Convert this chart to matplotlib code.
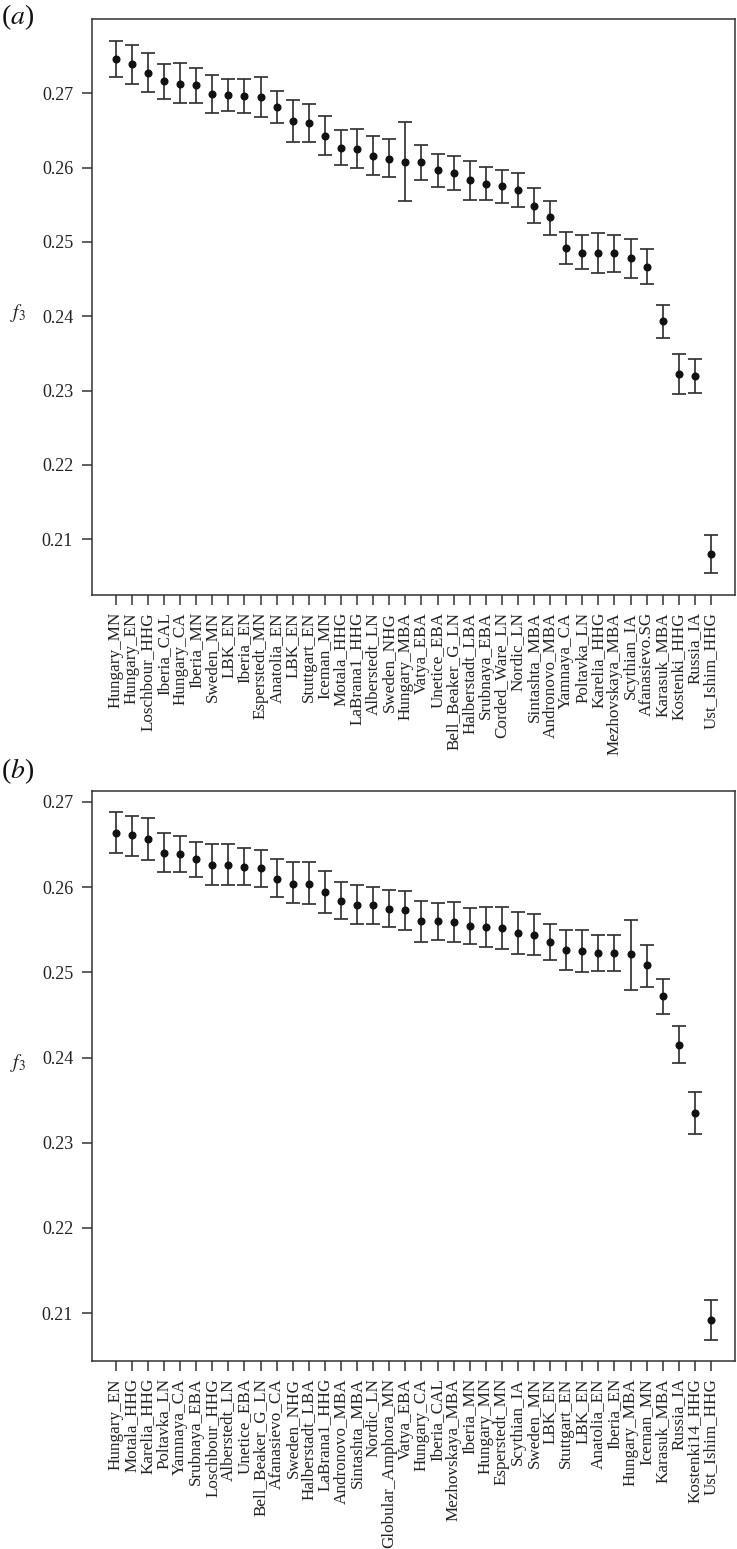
import numpy as np
import matplotlib
matplotlib.use("Agg")
from matplotlib import pyplot as plt

plt.rcParams['font.family'] = ['Liberation Serif', 'DejaVu Serif']
plt.rcParams['mathtext.fontset'] = 'stix'

# panel (a)
labels_a = ["Hungary_MN", "Hungary_EN", "Loschbour_HHG", "Iberia_CAL", "Hungary_CA",
            "Iberia_MN", "Sweden_MN", "LBK_EN", "Iberia_EN", "Esperstedt_MN",
            "Anatolia_EN", "LBK_EN", "Stuttgart_EN", "Iceman_MN", "Motala_HHG",
            "LaBrana1_HHG", "Alberstedt_LN", "Sweden_NHG", "Hungary_MBA", "Vatya_EBA",
            "Unetice_EBA", "Bell_Beaker_G_LN", "Halberstadt_LBA", "Srubnaya_EBA",
            "Corded_Ware_LN", "Nordic_LN", "Sintashta_MBA", "Andronovo_MBA",
            "Yamnaya_CA", "Poltavka_LN", "Karelia_HHG", "Mezhovskaya_MBA",
            "Scythian_IA", "Afanasievo.SG", "Karasuk_MBA", "Kostenki_HHG",
            "Russia_IA", "Ust_Ishim_HHG"]
f3_a = [0.2746, 0.2739, 0.2728, 0.2716, 0.2713, 0.2711, 0.2699, 0.2698, 0.2696, 0.2695,
        0.2681, 0.2663, 0.2660, 0.2642, 0.2627, 0.2625, 0.2616, 0.2612, 0.2608, 0.2608,
        0.2597, 0.2593, 0.2583, 0.2578, 0.2575, 0.2570, 0.2549, 0.2533, 0.2492, 0.2485,
        0.2485, 0.2485, 0.2478, 0.2467, 0.2393, 0.2322, 0.2319, 0.2080]
lo_a = [0.2722, 0.2713, 0.2702, 0.2693, 0.2687, 0.2687, 0.2673, 0.2676, 0.2673, 0.2668,
        0.2660, 0.2635, 0.2635, 0.2617, 0.2604, 0.2599, 0.2590, 0.2587, 0.2555, 0.2583,
        0.2574, 0.2570, 0.2557, 0.2556, 0.2553, 0.2547, 0.2525, 0.2510, 0.2470, 0.2463,
        0.2458, 0.2460, 0.2452, 0.2444, 0.2371, 0.2295, 0.2297, 0.2054]
hi_a = [0.2771, 0.2765, 0.2755, 0.2739, 0.2741, 0.2734, 0.2725, 0.2720, 0.2720, 0.2722,
        0.2703, 0.2691, 0.2686, 0.2669, 0.2651, 0.2652, 0.2642, 0.2638, 0.2661, 0.2631,
        0.2619, 0.2616, 0.2609, 0.2601, 0.2597, 0.2593, 0.2573, 0.2555, 0.2514, 0.2510,
        0.2512, 0.2510, 0.2504, 0.2491, 0.2415, 0.2349, 0.2342, 0.2105]

# panel (b)
labels_b = ["Hungary_EN", "Motala_HHG", "Karelia_HHG", "Poltavka_LN", "Yamnaya_CA",
            "Srubnaya_EBA", "Loschbour_HHG", "Alberstedt_LN", "Unetice_EBA",
            "Bell_Beaker_G_LN", "Afanasievo_CA", "Sweden_NHG", "Halberstadt_LBA",
            "LaBrana1_HHG", "Andronovo_MBA", "Sintashta_MBA", "Nordic_LN",
            "Globular_Amphora_MN", "Vatya_EBA", "Hungary_CA", "Iberia_CAL",
            "Mezhovskaya_MBA", "Iberia_MN", "Hungary_MN", "Esperstedt_MN",
            "Scythian_IA", "Sweden_MN", "LBK_EN", "Stuttgart_EN", "LBK_EN",
            "Anatolia_EN", "Iberia_EN", "Hungary_MBA", "Iceman_MN", "Karasuk_MBA",
            "Russia_IA", "Kostenki14_HHG", "Ust_Ishim_HHG"]
f3_b = [0.2664, 0.2661, 0.2657, 0.2640, 0.2639, 0.2633, 0.2626, 0.2626, 0.2624, 0.2622,
        0.2610, 0.2604, 0.2604, 0.2594, 0.2584, 0.2579, 0.2579, 0.2574, 0.2573, 0.2560,
        0.2560, 0.2559, 0.2554, 0.2553, 0.2552, 0.2546, 0.2544, 0.2536, 0.2526, 0.2525,
        0.2523, 0.2523, 0.2521, 0.2508, 0.2472, 0.2415, 0.2335, 0.2092]
lo_b = [0.2640, 0.2637, 0.2632, 0.2618, 0.2618, 0.2612, 0.2602, 0.2602, 0.2602, 0.2600,
        0.2588, 0.2581, 0.2580, 0.2570, 0.2563, 0.2557, 0.2557, 0.2553, 0.2550, 0.2535,
        0.2538, 0.2535, 0.2533, 0.2530, 0.2527, 0.2522, 0.2520, 0.2515, 0.2503, 0.2500,
        0.2502, 0.2501, 0.2479, 0.2483, 0.2451, 0.2394, 0.2310, 0.2069]
hi_b = [0.2688, 0.2683, 0.2681, 0.2663, 0.2660, 0.2653, 0.2650, 0.2651, 0.2646, 0.2643,
        0.2633, 0.2629, 0.2629, 0.2619, 0.2606, 0.2602, 0.2600, 0.2597, 0.2595, 0.2584,
        0.2581, 0.2582, 0.2576, 0.2577, 0.2577, 0.2571, 0.2568, 0.2557, 0.2550, 0.2550,
        0.2544, 0.2544, 0.2561, 0.2532, 0.2492, 0.2437, 0.2359, 0.2116]

yticks = [0.21, 0.22, 0.23, 0.24, 0.25, 0.26, 0.27]


def panel(ax, labels, f3, lo, hi):
    x = np.arange(1, len(labels) + 1)
    f3 = np.array(f3)
    lo = np.array(lo)
    hi = np.array(hi)
    ax.errorbar(x, f3, yerr=[f3 - lo, hi - f3], fmt='o', color='#111111',
                ecolor='#333333', elinewidth=1.25, capsize=5, capthick=1.25,
                markersize=4.8)
    # R style 4% padding
    n = len(labels)
    ax.set_xlim(1 - 0.04 * (n - 1), n + 0.04 * (n - 1))
    r = hi.max() - lo.min()
    ax.set_ylim(lo.min() - 0.04 * r, hi.max() + 0.04 * r)
    ax.set_xticks(x)
    ax.set_xticklabels(labels, rotation=90, fontsize=12.3, color='#222222')
    ax.set_yticks(yticks)
    ax.set_yticklabels(["%.2f" % t for t in yticks], fontsize=13, color='#222222')
    ax.tick_params(axis='x', length=7.5, width=1.1, color='#333333', pad=5)
    ax.tick_params(axis='y', length=7.5, width=1.1, color='#333333', pad=6)
    for s in ax.spines.values():
        s.set_linewidth(1.1)
        s.set_color('#333333')


fig = plt.figure(figsize=(7.37, 15.49), dpi=100)
ax1 = fig.add_axes([92 / 737, 1 - 594.7 / 1549, 642.8 / 737, 575.4 / 1549])
ax2 = fig.add_axes([92 / 737, 1 - 1360.7 / 1549, 642.8 / 737, 569.7 / 1549])
panel(ax1, labels_a, f3_a, lo_a, hi_a)
panel(ax2, labels_b, f3_b, lo_b, hi_b)

fig.text(1 / 737, 1 - 17 / 1549, r'($\mathit{a}$)', fontsize=20, va='center', ha='left', color='#111111')
fig.text(1 / 737, 1 - 771 / 1549, r'($\mathit{b}$)', fontsize=20, va='center', ha='left', color='#111111')
fig.text(18 / 737, 1 - 313 / 1549, r'$f_3$', fontsize=14, va='center', ha='center', color='#222222')
fig.text(18 / 737, 1 - 1063 / 1549, r'$f_3$', fontsize=14, va='center', ha='center', color='#222222')

fig.savefig("out.png", dpi=100)
